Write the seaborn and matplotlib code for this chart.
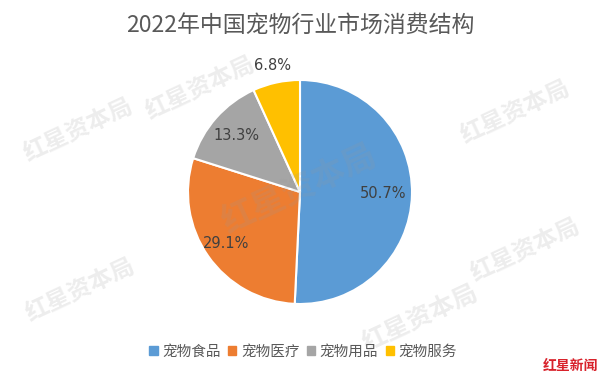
import matplotlib
matplotlib.use("Agg")
import matplotlib.pyplot as plt
import seaborn as sns
import numpy as np

sns.set_theme(style="white")
plt.rcParams['font.family'] = ['Noto Sans CJK SC', 'DejaVu Sans']

title = "2022年中国宠物行业市场消费结构"
categories = ["宠物食品", "宠物医疗", "宠物用品", "宠物服务"]
values = [50.7, 29.1, 13.3, 6.8]
colors = ["#5B9BD5", "#ED7D31", "#A5A5A5", "#FFC000"]
label_dist = [0.74, 0.80, 0.76, 1.16]

fig = plt.figure(figsize=(6, 3.78), dpi=100)
ax = fig.add_axes([0, 0, 1, 1])

cx, cy, r = 300, 186, 112
wedges, _ = ax.pie(values, colors=colors, startangle=90, counterclock=False,
                   center=(cx, cy), radius=r, frame=True,
                   wedgeprops=dict(edgecolor="white", linewidth=1.5))
ax.set_xlim(0, 600)
ax.set_ylim(0, 378)
ax.axis("off")

for w, v, d in zip(wedges, values, label_dist):
    ang = np.deg2rad((w.theta1 + w.theta2) / 2)
    ax.text(cx + d * r * np.cos(ang), cy + d * r * np.sin(ang), f"{v}%",
            ha="center", va="center", fontsize=10.5, color="#404040",
            family=["DejaVu Sans"], zorder=5)

fig.text(0.5, 1 - 25 / 378, title, ha="center", va="center", fontsize=16.5,
         color="#595959")

handles = [plt.Rectangle((0, 0), 1, 1, color=c) for c in colors]
fig.legend(handles, categories, loc="center", bbox_to_anchor=(0.505, 1 - 352 / 378),
           ncol=4, frameon=False, fontsize=10.5, handlelength=0.6, handleheight=0.6,
           handletextpad=0.3, columnspacing=0.5, labelcolor="#595959")

# watermarks
wm = [(200, 88, 17), (78, 130, 17), (300, 190, 24), (515, 112, 17),
      (80, 290, 17), (525, 250, 17), (420, 318, 18)]
for x, y, s in wm:
    fig.text(x / 600, 1 - y / 378, "红星资本局", fontsize=s, color="#999999",
             alpha=0.18, rotation=25, ha="center", va="center", fontweight="bold")

fig.text(598 / 600, 1 - 366 / 378, "红星新闻", fontsize=10, color="#D8222B",
         ha="right", va="center", fontweight="bold")

fig.savefig("out.png", dpi=100, facecolor="white")
